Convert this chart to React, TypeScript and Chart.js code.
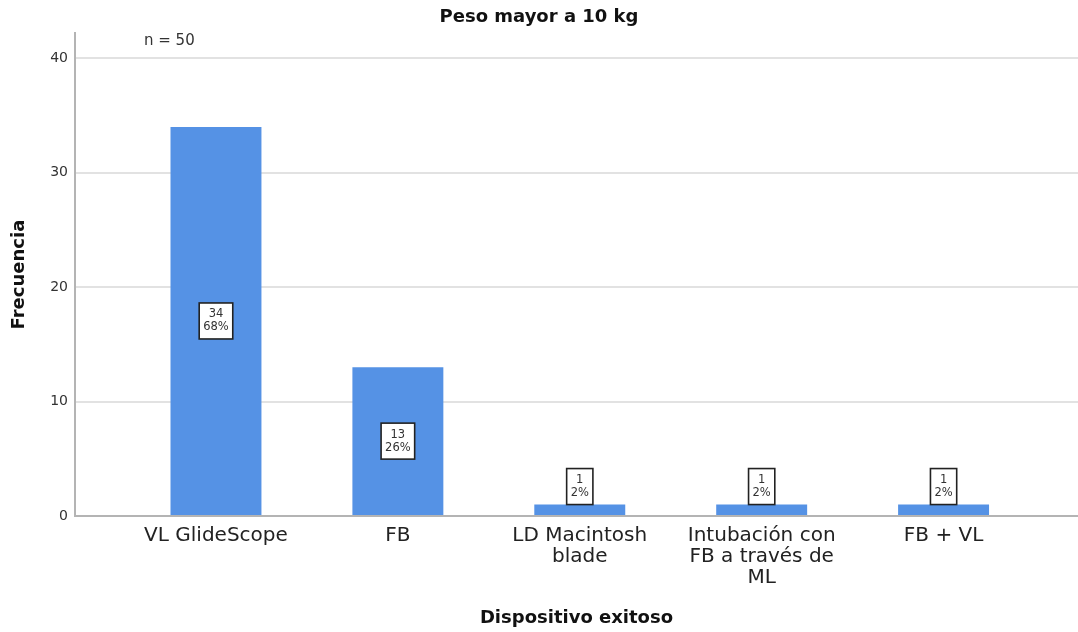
import React, { useEffect, useRef } from "react";
import { Chart, registerables } from "chart.js";

Chart.register(...registerables);

const categories: string[][] = [
  ["VL GlideScope"],
  ["FB"],
  ["LD Macintosh", "blade"],
  ["Intubación con", "FB a través de", "ML"],
  ["FB + VL"],
];
const frequencies = [34, 13, 1, 1, 1];
const percentages = ["68%", "26%", "2%", "2%", "2%"];
const yTicks = [0, 10, 20, 30, 40];
const chartTitle = "Peso mayor a 10 kg";
const sampleNote = "n = 50";
const xTitle = "Dispositivo exitoso";
const yTitle = "Frecuencia";

const FONT = '"DejaVu Sans", sans-serif';

const boxPlugin = {
  id: "valueBoxes",
  afterDatasetsDraw(chart: any) {
    const ctx = chart.ctx as CanvasRenderingContext2D;
    const meta = chart.getDatasetMeta(0);
    ctx.save();
    ctx.font = `11.5px ${FONT}`;
    const lh = 13;
    meta.data.forEach((el: any, i: number) => {
      const { x, y, base } = el.getProps(["x", "y", "base"], true);
      const lines = [String(frequencies[i]), percentages[i]];
      const w = Math.max(...lines.map((l) => ctx.measureText(l).width)) + 8;
      const h = lines.length * lh + 10;
      const barH = base - y;
      const cy = barH > h + 6 ? (y + base) / 2 : y - h / 2;
      ctx.fillStyle = "#ffffff";
      ctx.fillRect(x - w / 2, cy - h / 2, w, h);
      ctx.strokeStyle = "#222222";
      ctx.lineWidth = 1.6;
      ctx.strokeRect(x - w / 2, cy - h / 2, w, h);
      ctx.fillStyle = "#333333";
      ctx.textAlign = "center";
      ctx.textBaseline = "middle";
      lines.forEach((l, j) => {
        ctx.fillText(l, x, cy - h / 2 + 5 + lh / 2 + j * lh);
      });
    });
    const area = chart.chartArea;
    ctx.font = `15px ${FONT}`;
    ctx.textAlign = "left";
    ctx.textBaseline = "middle";
    ctx.fillStyle = "#333333";
    ctx.fillText(sampleNote, area.left + 69, area.top + 8);
    ctx.restore();
  },
};

export default function App() {
  const canvasRef = useRef<HTMLCanvasElement | null>(null);

  useEffect(() => {
    document.body.style.margin = "0";
    const canvas = canvasRef.current;
    if (!canvas) return;
    const chart = new Chart(canvas, {
      type: "bar",
      data: {
        datasets: [
          {
            data: frequencies.map((v, i) => ({ x: i, y: v })),
            backgroundColor: "#5592e5",
            borderWidth: 0,
            barPercentage: 0.5,
            categoryPercentage: 1.0,
          },
        ],
      },
      options: {
        responsive: false,
        animation: false,
        layout: { padding: 0 },
        plugins: {
          legend: { display: false },
          tooltip: { enabled: false },
          title: {
            display: true,
            text: chartTitle,
            color: "#111111",
            font: { family: FONT, size: 18, weight: "bold" },
            padding: { top: 7, bottom: 4.5 },
          },
        },
        scales: {
          x: {
            type: "linear",
            offset: false,
            min: -0.775,
            max: 4.739,
            grid: { display: false, drawTicks: false, offset: false },
            border: { display: true, color: "#b4b4b4", width: 2 },
            afterBuildTicks: (scale: any) => {
              scale.ticks = categories.map((_, i) => ({ value: i }));
            },
            afterFit: (scale: any) => {
              scale.height = 116;
            },
            ticks: {
              autoSkip: false,
              maxRotation: 0,
              minRotation: 0,
              padding: 9,
              color: "#222222",
              font: { family: FONT, size: 20, lineHeight: 1.05 },
              callback: (value: any) => categories[Number(value)] ?? "",
            },
            title: {
              display: true,
              text: xTitle,
              color: "#111111",
              font: { family: FONT, size: 18, weight: "bold" },
              padding: { top: 10, bottom: 3 },
            },
          },
          y: {
            type: "linear",
            min: 0,
            max: 42.2,
            afterBuildTicks: (scale: any) => {
              scale.ticks = yTicks.map((v) => ({ value: v }));
            },
            afterFit: (scale: any) => {
              scale.width = 75;
            },
            grid: { color: "#e2e2e2", lineWidth: 2, drawTicks: false },
            border: { display: true, color: "#b4b4b4", width: 2 },
            ticks: {
              padding: 7,
              color: "#333333",
              includeBounds: false,
              font: { family: FONT, size: 14 },
            },
            title: {
              display: true,
              text: yTitle,
              color: "#111111",
              font: { family: FONT, size: 18, weight: "bold" },
              padding: { top: 9, bottom: 0 },
            },
          },
        },
      },
      plugins: [boxPlugin],
    } as any);
    return () => chart.destroy();
  }, []);

  return (
    <div style={{ width: 1078, height: 632 }}>
      <canvas ref={canvasRef} width={1078} height={632} />
    </div>
  );
}
